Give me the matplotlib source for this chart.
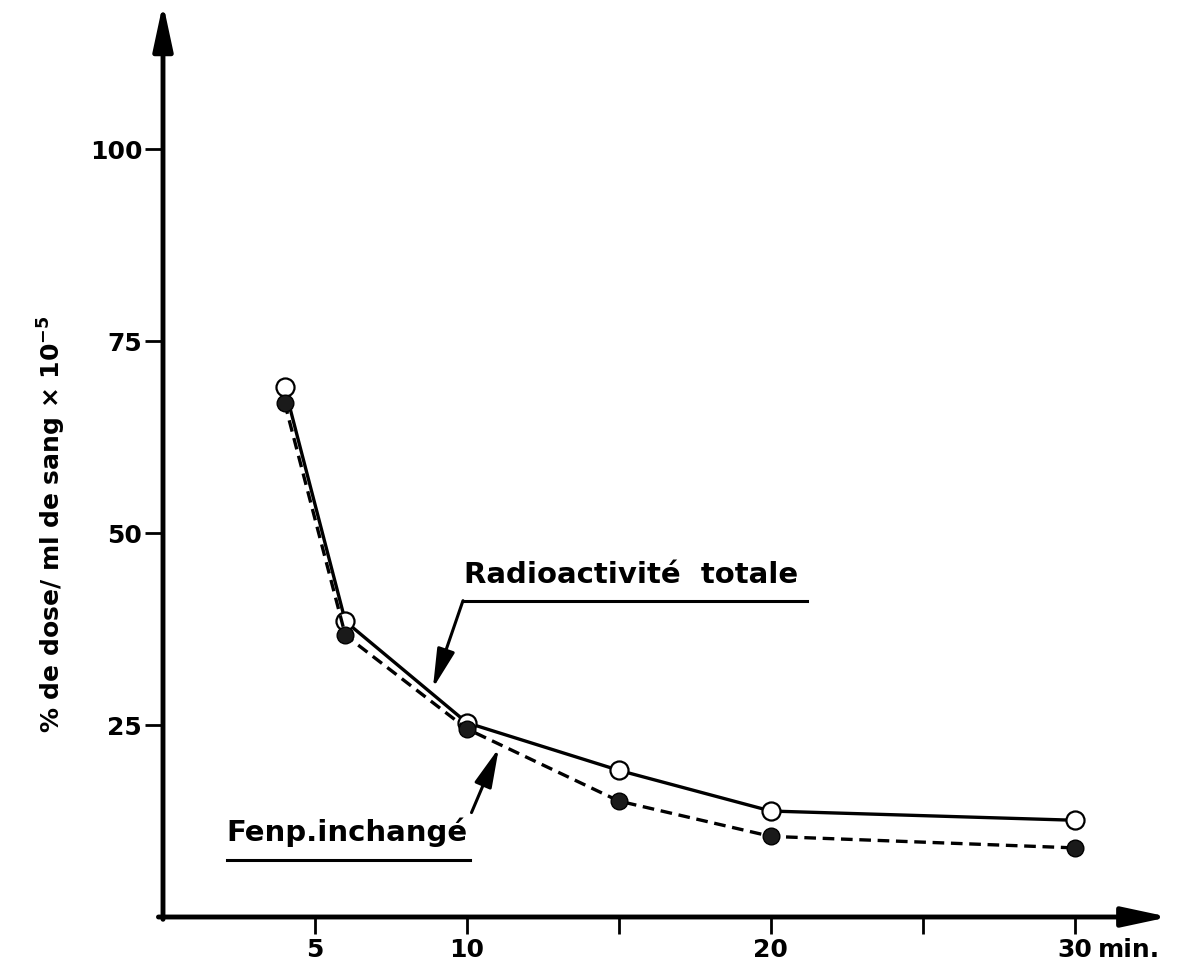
import matplotlib
matplotlib.use('Agg')
import matplotlib.pyplot as plt

# temps de prélèvement (min)
temps = [4, 6, 10, 15, 20, 30]
# % de dose / ml de sang x 1e-5
radio_totale = [69.0, 38.5, 25.3, 19.1, 13.8, 12.6]
fenp_inchange = [67.0, 36.7, 24.5, 15.1, 10.5, 9.0]

xticks = [5, 10, 15, 20, 25, 30]
xtick_labels = ['5', '10', '', '20', '', '30']
yticks = [25, 50, 75, 100]
ytick_labels = ['25', '50', '75', '100']

plt.rcParams['font.family'] = ['DejaVu Sans']
plt.rcParams['font.weight'] = 'bold'

fig = plt.figure(figsize=(11.81, 9.74), dpi=100)
ax = fig.add_axes([163 / 1181, 57 / 974, 1003 / 1181, 906 / 974])
ax.set_xlim(0, 33)
ax.set_ylim(0, 118)
for s in ax.spines.values():
    s.set_visible(False)

# axes avec flèches
arrow_ax = dict(arrowstyle='-|>,head_length=2.8,head_width=0.6', lw=3.5,
                color='black', mutation_scale=10, shrinkA=0, shrinkB=0)
ax.annotate('', xy=(33.1, 0), xytext=(-0.15, 0), arrowprops=arrow_ax,
            annotation_clip=False)
ax.annotate('', xy=(0, 119), xytext=(0, -0.3), arrowprops=arrow_ax,
            annotation_clip=False)

ax.set_xticks(xticks)
ax.set_xticklabels(xtick_labels, fontsize=18, fontweight='bold')
ax.set_yticks(yticks)
ax.set_yticklabels(ytick_labels, fontsize=18, fontweight='bold')
ax.tick_params(axis='x', direction='out', length=12, width=2, pad=3)
ax.tick_params(axis='y', direction='out', length=13, width=2, pad=2)
ax.text(30.75, -2.75, 'min.', fontsize=18, fontweight='bold',
        ha='left', va='top', clip_on=False)

# courbes
ax.plot(temps, radio_totale, color='black', lw=2.4, marker='o',
        markersize=13, markerfacecolor='white', markeredgecolor='black',
        markeredgewidth=1.6, zorder=3, clip_on=False)
ax.plot(temps, fenp_inchange, color='black', lw=2.4, dashes=(3.5, 2),
        marker='o', markersize=12, markerfacecolor='#1a1a1a',
        markeredgecolor='black', zorder=4, clip_on=False)

# annotations
arrow_lbl = dict(arrowstyle='-|>,head_length=2.4,head_width=0.55', lw=2.2,
                 color='black', mutation_scale=10, shrinkA=0, shrinkB=0)
ax.text(9.9, 44.6, 'Radioactivité  totale', fontsize=21, fontweight='bold',
        ha='left', va='center')
ax.plot([9.87, 21.2], [41.2, 41.2], color='black', lw=2.2)
ax.annotate('', xy=(8.88, 29.8), xytext=(9.87, 41.2), arrowprops=arrow_lbl)

ax.text(2.1, 11.0, 'Fenp.inchangé', fontsize=21, fontweight='bold',
        ha='left', va='center')
ax.plot([2.1, 10.1], [7.4, 7.4], color='black', lw=2.2)
ax.annotate('', xy=(11.05, 22.0), xytext=(10.15, 13.6), arrowprops=arrow_lbl)

fig.text(52 / 1181, 0.462, r'% de dose/ ml de sang $\times$ 10$^{\mathbf{-5}}$',
         rotation=90, fontsize=18, fontweight='bold', ha='center', va='center')

fig.savefig('out.png', dpi=100)
